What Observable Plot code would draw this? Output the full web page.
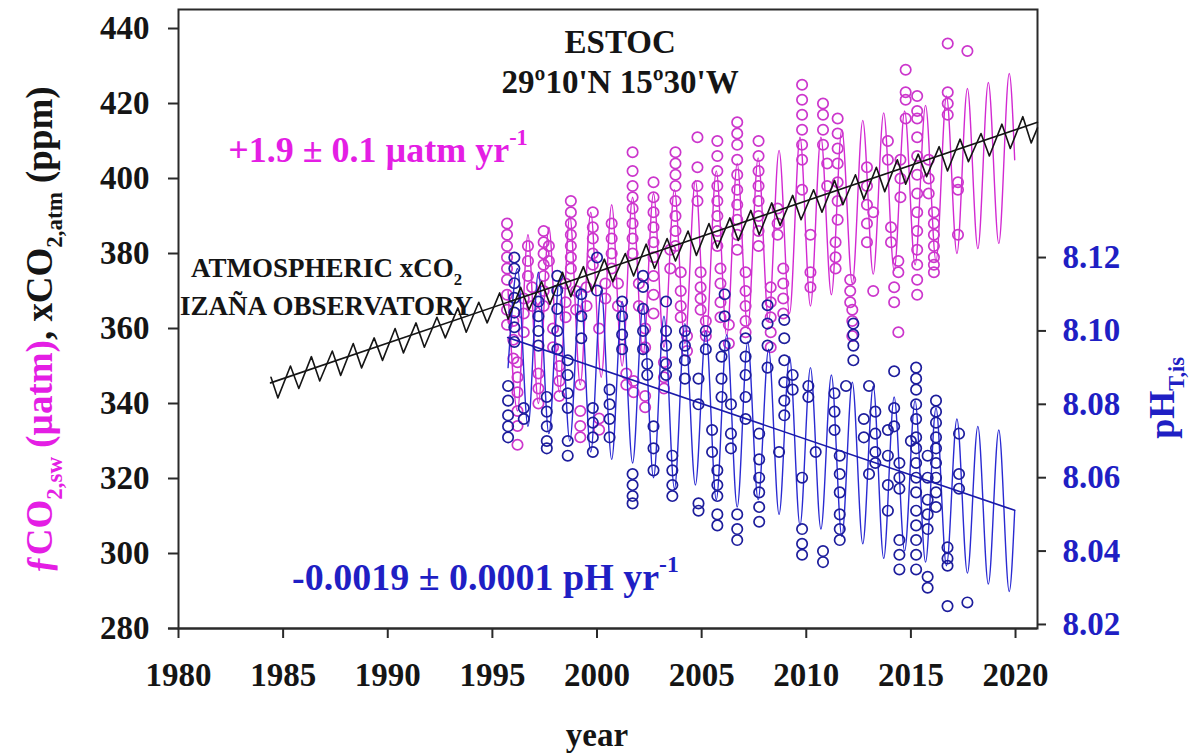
<!DOCTYPE html>
<html><head><meta charset="utf-8">
<script src="https://cdn.jsdelivr.net/npm/d3@7"></script>
<script src="https://cdn.jsdelivr.net/npm/@observablehq/plot@0.6"></script>
<style>
body{margin:0;background:#fff;}
#wrap{position:relative;width:1192px;height:753px;overflow:hidden;background:#fff;}
#wrap svg{position:absolute;left:0;top:0;}
</style></head><body><div id="wrap"></div>
<script>
// ---------- axis ticks ----------
const yearTicks = [1980,1985,1990,1995,2000,2005,2010,2015,2020];
const ppmTicks = [280,300,320,340,360,380,400,420,440];
const phTicks = [8.02,8.04,8.06,8.08,8.10,8.12];

// ---------- atmospheric xCO2, Izaña (ppm) ----------
const atmYear = [1984.42,1984.75,1985.35,1985.75,1986.35,1986.75,1987.35,1987.75,1988.35,1988.75,1989.35,1989.75,1990.35,1990.75,1991.35,1991.75,1992.35,1992.75,1993.35,1993.75,1994.35,1994.75,1995.35,1995.75,1996.35,1996.75,1997.35,1997.75,1998.35,1998.75,1999.35,1999.75,2000.35,2000.75,2001.35,2001.75,2002.35,2002.75,2003.35,2003.75,2004.35,2004.75,2005.35,2005.75,2006.35,2006.75,2007.35,2007.75,2008.35,2008.75,2009.35,2009.75,2010.35,2010.75,2011.35,2011.75,2012.35,2012.75,2013.35,2013.75,2014.35,2014.75,2015.35,2015.75,2016.35,2016.75,2017.35,2017.75,2018.35,2018.75,2019.35,2019.75,2020.35,2020.75,2021.05];
const atmPpm  = [347.0,341.5,350.0,344.0,352.5,346.0,354.0,347.5,356.0,349.5,357.5,351.5,360.0,353.5,361.5,355.0,363.0,357.5,365.5,359.0,367.0,361.5,369.5,362.5,371.0,365.0,372.5,366.5,375.0,368.5,376.5,370.0,378.5,372.5,380.0,374.0,382.5,376.0,384.0,378.0,386.0,379.5,388.0,381.5,389.5,383.5,391.5,385.0,393.5,387.5,395.5,389.0,397.0,391.0,399.5,393.0,401.0,394.5,403.0,396.5,405.0,398.5,406.5,400.5,408.5,402.0,410.5,404.5,412.0,406.0,414.5,408.0,416.5,409.5,413.5];
const atmTrendYear = [1984.4, 2021.05];
const atmTrendPpm = [345.5, 415.0];

// ---------- seawater fCO2, ESTOC (µatm): observations [year, value] ----------
const fco2Obs = [
[1995.7,388],[1995.7,385],[1995.7,382],[1995.7,379],[1995.7,376],[1995.7,373],[1995.7,369],[1995.7,365],[1995.7,361],
[1996.0,362],[1996.0,357],[1996.0,352],
[1996.2,351],[1996.2,347],[1996.2,343],[1996.2,338],[1996.2,334],[1996.2,329],
[1996.5,368],[1996.5,364],[1996.5,359],[1996.7,382],[1996.7,378],[1996.7,374],[1996.9,371],[1996.9,366],
[1997.2,348],[1997.2,344],[1997.2,340],
[1997.45,386],[1997.45,383],[1997.45,380],[1997.45,377],[1997.45,374],[1997.45,370],[1997.45,366],
[1997.7,382],[1997.7,378],[1997.9,360],[1997.9,355],
[1998.2,350],[1998.2,346],[1998.2,342],[1998.5,372],[1998.5,367],[1998.5,363],
[1998.75,394],[1998.75,391],[1998.75,388],[1998.75,385],[1998.75,382],[1998.75,379],[1998.75,376],
[1999.0,370],[1999.0,365],[1999.2,345],[1999.2,338],[1999.2,334],[1999.2,331],[1999.5,366],[1999.5,371],
[1999.8,391],[1999.8,387],[1999.8,384],[1999.8,380],[1999.8,377],
[2000.1,360],[2000.1,336],[2000.1,333],[2000.4,368],[2000.4,372],
[2000.7,388],[2000.7,384],[2000.7,380],[2000.7,376],[2001.0,372],[2001.0,366],[2001.4,348],[2001.4,345],
[2001.7,407],[2001.7,402],[2001.7,398],[2001.7,395],[2001.7,392],[2001.7,388],[2001.7,384],[2001.7,380],
[2001.75,346],[2001.75,343],[2002.0,372],[2002.0,366],
[2002.3,360],[2002.3,355],[2002.3,342],[2002.3,339],
[2002.7,399],[2002.7,395],[2002.7,391],[2002.7,387],[2002.7,383],[2002.7,379],[2002.7,374],[2002.7,369],[2002.7,364],
[2003.2,351],[2003.2,347],[2003.2,344],[2003.5,376],[2003.5,381],
[2003.75,407],[2003.75,404],[2003.75,401],[2003.75,398],[2003.75,394],[2003.75,390],[2003.75,386],[2003.75,382],
[2004.0,375],[2004.0,370],[2004.0,366],[2004.0,363],[2004.3,358],[2004.3,354],
[2004.8,411],[2004.8,403],[2004.8,398],[2004.8,394],[2004.95,375],[2004.95,371],[2004.95,368],[2004.95,365],
[2005.2,362],[2005.2,358],
[2005.75,410],[2005.75,406],[2005.75,402],[2005.75,398],[2005.75,394],[2005.75,390],[2005.75,386],[2005.75,382],
[2005.9,376],[2005.9,372],[2005.9,367],[2005.9,363],[2006.3,361],[2006.3,356],
[2006.7,415],[2006.7,412],[2006.7,409],[2006.7,405],[2006.7,401],[2006.7,397],[2006.7,393],[2006.7,389],[2006.7,385],[2006.7,381],
[2007.1,375],[2007.1,370],[2007.1,366],[2007.1,362],[2007.1,359],
[2007.72,410],[2007.72,406],[2007.72,402],[2007.72,398],[2007.72,394],[2007.72,390],[2007.72,386],[2007.72,382],
[2008.3,371],[2008.3,367],[2008.3,363],[2008.3,359],[2008.3,355],
[2008.63,392],[2008.63,388],[2008.63,385],[2008.9,376],[2008.9,372],[2008.9,368],[2008.9,364],
[2009.8,425],[2009.8,421],[2009.8,417],[2009.8,413],[2009.8,409],[2009.8,405],[2009.8,397],
[2010.2,385],[2010.2,375],[2010.2,371],
[2010.8,420],[2010.8,417],[2010.8,413],[2010.8,409],[2011.0,404],[2011.0,398],
[2011.5,416],[2011.5,412],[2011.5,408],[2011.5,404],[2011.5,399],[2011.5,394],[2011.5,389],
[2011.4,383],[2011.4,379],[2011.4,376],
[2012.1,373],[2012.1,370],[2012.1,367],[2012.2,365],[2012.2,362],[2012.2,358],
[2012.9,403],[2012.9,398],[2012.9,393],[2012.9,388],[2012.9,383],[2013.2,391],[2013.2,370],
[2013.9,410],[2013.9,405],[2014.05,387],[2014.05,383],[2014.2,371],[2014.2,367],
[2014.4,378],[2014.4,375],[2014.4,359],[2014.5,405],[2014.5,400],[2014.5,395],
[2014.75,429],[2014.75,423],[2014.75,421],[2014.75,416],
[2015.3,422],[2015.3,418],[2015.3,416],[2015.3,411],[2015.3,406],[2015.3,401],[2015.3,396],[2015.3,391],[2015.3,386],[2015.3,381],[2015.3,377],[2015.3,373],[2015.3,369],
[2015.85,405],[2015.85,400],[2015.85,396],
[2016.1,391],[2016.1,388],[2016.1,385],[2016.1,382],[2016.1,379],[2016.1,377],[2016.1,375],
[2016.76,436],[2016.76,423],[2016.76,420],[2016.76,417],
[2017.25,399],[2017.25,397],[2017.25,385],[2017.7,434]
];
// seasonal fit: successive troughs and crests
const fco2FitYear = [1995.75,1996.2,1996.7,1997.2,1997.7,1998.2,1998.7,1999.2,1999.7,2000.2,2000.7,2001.2,2001.7,2002.2,2002.7,2003.2,2003.7,2004.2,2004.7,2005.2,2005.7,2006.2,2006.7,2007.2,2007.7,2008.2,2008.7,2009.2,2009.7,2010.2,2010.7,2011.2,2011.7,2012.2,2012.7,2013.2,2013.7,2014.2,2014.7,2015.2,2015.7,2016.2,2016.7,2017.2,2017.7,2018.2,2018.7,2019.2,2019.7,2019.96];
const fco2FitVal  = [370,338,385,340,387,343,390,345,391,347,393,350,395,353,396,355,397,356,399.5,357,402,358,404,360,405.5,362,407.5,364,411,366,411,369,413,372,415.5,374.5,417.5,375.5,418,377,419.5,378,422,380,424,381.3,425.6,382.7,428,405];

// ---------- pH (total scale, in situ) ----------
const phObs = [
[1995.75,8.085],[1995.75,8.081],[1995.75,8.077],[1995.75,8.074],[1995.75,8.071],
[1996.05,8.120],[1996.05,8.117],[1996.05,8.113],[1996.05,8.109],[1996.05,8.105],[1996.05,8.101],[1996.05,8.097],
[1996.5,8.079],[1996.5,8.076],
[1997.2,8.108],[1997.2,8.104],[1997.2,8.100],[1997.2,8.096],
[1997.6,8.082],[1997.6,8.078],[1997.6,8.074],[1997.6,8.070],[1997.6,8.068],
[1998.1,8.115],[1998.1,8.111],[1998.1,8.106],[1998.1,8.100],[1998.1,8.095],
[1998.6,8.092],[1998.6,8.088],[1998.6,8.083],[1998.6,8.079],[1998.6,8.070],[1998.6,8.066],
[1999.25,8.110],[1999.25,8.104],[1999.25,8.098],
[1999.8,8.079],[1999.8,8.075],[1999.8,8.071],[1999.8,8.067],
[2000.0,8.120],[2000.0,8.111],
[2000.6,8.084],[2000.6,8.080],[2000.6,8.076],[2000.6,8.071],
[2001.2,8.108],[2001.2,8.104],[2001.2,8.099],[2001.2,8.095],
[2001.7,8.061],[2001.7,8.058],[2001.7,8.055],[2001.7,8.053],
[2002.2,8.115],[2002.2,8.112],[2002.2,8.106],[2002.2,8.100],[2002.2,8.095],
[2002.4,8.091],[2002.4,8.088],[2002.7,8.074],[2002.7,8.068],[2002.7,8.062],
[2003.3,8.108],[2003.3,8.100],[2003.3,8.096],[2003.3,8.091],[2003.3,8.088],
[2003.6,8.066],[2003.6,8.062],[2003.6,8.058],[2003.6,8.055],
[2004.2,8.100],[2004.2,8.096],[2004.2,8.092],[2004.2,8.087],
[2004.85,8.087],[2004.85,8.080],[2004.85,8.053],[2004.85,8.051],
[2005.2,8.100],[2005.2,8.095],[2005.5,8.073],[2005.5,8.067],
[2005.75,8.062],[2005.75,8.058],[2005.75,8.055],[2005.75,8.050],[2005.75,8.047],
[2005.95,8.093],[2005.95,8.087],[2005.95,8.082],
[2006.1,8.110],[2006.1,8.104],[2006.1,8.096],
[2006.4,8.080],[2006.4,8.072],[2006.4,8.068],
[2006.7,8.050],[2006.7,8.046],[2006.7,8.043],
[2007.1,8.098],[2007.1,8.093],[2007.1,8.088],[2007.1,8.082],[2007.1,8.076],
[2007.75,8.072],[2007.75,8.065],[2007.75,8.060],[2007.75,8.056],[2007.75,8.052],[2007.75,8.048],
[2008.15,8.107],[2008.15,8.102],[2008.15,8.096],[2008.15,8.090],
[2008.7,8.067],
[2008.95,8.103],[2008.95,8.098],[2008.95,8.092],[2008.95,8.086],[2008.95,8.081],[2008.95,8.077],
[2009.35,8.088],[2009.35,8.084],
[2009.8,8.060],[2009.8,8.046],[2009.8,8.042],[2009.8,8.039],
[2010.1,8.085],[2010.1,8.082],[2010.45,8.067],[2010.8,8.040],[2010.8,8.037],
[2011.35,8.083],[2011.35,8.078],[2011.35,8.073],
[2011.6,8.066],[2011.6,8.061],[2011.6,8.056],[2011.6,8.050],[2011.6,8.046],[2011.6,8.043],
[2011.9,8.085],
[2012.25,8.102],[2012.25,8.099],[2012.25,8.096],[2012.25,8.092],
[2012.75,8.076],[2012.75,8.071],[2013.0,8.061],[2013.0,8.085],
[2013.3,8.078],[2013.3,8.072],[2013.3,8.067],[2013.3,8.064],
[2013.9,8.073],[2013.9,8.066],[2013.9,8.058],[2013.9,8.051],
[2014.2,8.089],[2014.2,8.079],[2014.2,8.074],
[2014.45,8.064],[2014.45,8.060],[2014.45,8.057],[2014.45,8.043],[2014.45,8.039],[2014.45,8.035],
[2015.0,8.070],
[2015.25,8.090],[2015.25,8.087],[2015.25,8.084],[2015.25,8.080],[2015.25,8.076],[2015.25,8.071],[2015.25,8.068],[2015.25,8.064],[2015.25,8.060],[2015.25,8.056],[2015.25,8.051],[2015.25,8.047],[2015.25,8.043],[2015.25,8.039],[2015.25,8.035],
[2015.8,8.066],[2015.8,8.060],[2015.8,8.054],[2015.8,8.050],[2015.8,8.046],[2015.8,8.033],[2015.8,8.030],
[2016.2,8.081],[2016.2,8.078],[2016.2,8.075],[2016.2,8.071],[2016.2,8.068],[2016.2,8.064],[2016.2,8.060],[2016.2,8.056],[2016.2,8.052],
[2016.75,8.041],[2016.75,8.038],[2016.75,8.036],[2016.75,8.025],
[2017.3,8.072],[2017.3,8.061],[2017.3,8.057],[2017.7,8.026]
];
const phFitYear = [1995.75,1996.2,1996.7,1997.2,1997.7,1998.2,1998.7,1999.2,1999.7,2000.2,2000.7,2001.2,2001.7,2002.2,2002.7,2003.2,2003.7,2004.2,2004.7,2005.2,2005.7,2006.2,2006.7,2007.2,2007.7,2008.2,2008.7,2009.2,2009.7,2010.2,2010.7,2011.2,2011.7,2012.2,2012.7,2013.2,2013.7,2014.2,2014.7,2015.2,2015.7,2016.2,2016.7,2017.2,2017.7,2018.2,2018.7,2019.2,2019.7,2019.96];
const phFitVal  = [8.090,8.117,8.074,8.116,8.072,8.114,8.070,8.112,8.067,8.111,8.065,8.108,8.064,8.107,8.060,8.104,8.057,8.102,8.058,8.100,8.054,8.099,8.052,8.097,8.054,8.095,8.050,8.093,8.047,8.090,8.046,8.088,8.044,8.086,8.042,8.085,8.038,8.082,8.040,8.081,8.037,8.079,8.036,8.076,8.034,8.074,8.031,8.073,8.029,8.051];
const phTrendYear = [1995.73, 2019.96];
const phTrendVal = [8.0982, 8.0511];

// ---------- styling ----------
const FONT = "'Liberation Serif','Times New Roman',serif";
const MAG_TXT = "#e41ee4", MAG_DOT = "#cc36cc", MAG_LINE = "#d22ad2";
const BLUE_TXT = "#1f1fc4", BLUE_DOT = "#1d1d9c", BLUE_LINE = "#2a2ad2";
const INK = "#151515";
const W = 1192, H = 753;
const common = {
  width: W, height: H,
  marginLeft: 178, marginRight: 155, marginTop: 9, marginBottom: 125,
  style: {background: "transparent", fontFamily: FONT, fontWeight: "bold", overflow: "visible"}
};
const xDomain = [1980, 2021.05];
const ppmDomain = [280, 445.07];
const phDomain = [8.0189, 8.1876];

// Layer A: frame, left & bottom axes, fCO2
const plotA = Plot.plot({
  ...common,
  x: {domain: xDomain},
  y: {domain: ppmDomain},
  marks: [
    Plot.ruleY([280], {x1: 1979.52, x2: 2021.05, stroke: "#2a2a2a", strokeWidth: 2}),
    Plot.frame({stroke: "#2a2a2a", strokeWidth: 2}),
    Plot.axisX({ticks: yearTicks, tickFormat: d => String(d), tickSize: 10, tickPadding: 24,
      fontSize: 33, fontFamily: FONT, fontWeight: "bold", stroke: "#2a2a2a", strokeWidth: 2, fill: INK, label: null}),
    Plot.axisY({ticks: ppmTicks, tickFormat: d => String(d), tickSize: 10, tickPadding: 19,
      fontSize: 33, fontFamily: FONT, fontWeight: "bold", stroke: "#2a2a2a", strokeWidth: 2, fill: INK, label: null}),
    Plot.line(fco2FitYear, {x: fco2FitYear, y: fco2FitVal, curve: "monotone-x", stroke: MAG_LINE, strokeWidth: 1.4}),
    Plot.dot(fco2Obs, {x: d => d[0], y: d => d[1], r: 5.2, stroke: MAG_DOT, strokeWidth: 1.7, fill: "none"})
  ]
});

// Layer B: pH with right axis
const plotB = Plot.plot({
  ...common,
  x: {domain: xDomain, axis: null},
  y: {domain: phDomain},
  marks: [
    Plot.axisY({anchor: "right", ticks: phTicks, tickFormat: d => d.toFixed(2), tickSize: 8, tickPadding: 17,
      fontSize: 33, fontFamily: FONT, fontWeight: "bold", stroke: "#2a2a2a", strokeWidth: 2, fill: BLUE_TXT, label: null}),
    Plot.line(phFitYear, {x: phFitYear, y: phFitVal, curve: "monotone-x", stroke: BLUE_LINE, strokeWidth: 1.4}),
    Plot.dot(phObs, {x: d => d[0], y: d => d[1], r: 5.2, stroke: BLUE_DOT, strokeWidth: 1.7, fill: "none"}),
    Plot.line(phTrendYear, {x: phTrendYear, y: phTrendVal, stroke: "#1a1aa8", strokeWidth: 1.6})
  ]
});

// Layer C: atmospheric xCO2 on top
const plotC = Plot.plot({
  ...common,
  x: {domain: xDomain, axis: null},
  y: {domain: ppmDomain, axis: null},
  marks: [
    Plot.line(atmYear, {x: atmYear, y: atmPpm, stroke: INK, strokeWidth: 1.6}),
    Plot.line(atmTrendYear, {x: atmTrendYear, y: atmTrendPpm, stroke: INK, strokeWidth: 1.6})
  ]
});

const wrap = document.getElementById("wrap");
wrap.append(plotA, plotB, plotC);

// ---------- rich text annotations ----------
const sx = plotC.scale("x"), sy = plotC.scale("y");
function rich(svg, {x, y, size, color, anchor = "start", rotate = 0, parts}) {
  const t = d3.select(svg).append("text")
    .attr("transform", `translate(${x},${y}) rotate(${rotate})`)
    .attr("text-anchor", anchor)
    .attr("font-family", FONT).attr("font-weight", "bold")
    .attr("font-size", size).attr("fill", color)
    .style("white-space", "pre");
  let shift = 0;
  for (const p of parts) {
    const fs = (p.sub || p.sup) ? size * 0.62 : size;
    const target = p.sub ? size * 0.28 : p.sup ? -size * 0.48 : 0;
    t.append("tspan").attr("dy", target - shift).attr("font-size", fs)
      .attr("fill", p.color || color).text(p.t);
    shift = target;
  }
  return t;
}
const svgC = plotC;
rich(svgC, {x: sx.apply(2001.13), y: sy.apply(433.3), size: 33, color: INK, anchor: "middle", parts: [{t: "ESTOC"}]});
rich(svgC, {x: sx.apply(2001.13), y: sy.apply(422.7), size: 33, color: INK, anchor: "middle", parts: [{t: "29º10'N 15º30'W"}]});
rich(svgC, {x: sx.apply(1982.4), y: sy.apply(404.3), size: 36, color: MAG_TXT, parts: [{t: "+1.9 ± 0.1 µatm yr"}, {t: "-1", sup: true}]});
rich(svgC, {x: sx.apply(1987.1), y: sy.apply(373.6), size: 27, color: INK, anchor: "middle", parts: [{t: "ATMOSPHERIC xCO"}, {t: "2", sub: true}]});
rich(svgC, {x: sx.apply(1987.1), y: sy.apply(363.5), size: 27, color: INK, anchor: "middle", parts: [{t: "IZAÑA OBSERVATORY"}]});
rich(svgC, {x: sx.apply(1985.45), y: sy.apply(290.1), size: 38, color: BLUE_TXT, parts: [{t: "-0.0019 ± 0.0001 pH yr"}, {t: "-1", sup: true}]});

// axis titles
rich(svgC, {x: 52, y: 330, size: 37, color: INK, anchor: "middle", rotate: -90, parts: [
  {t: "ƒCO", color: MAG_TXT}, {t: "2,sw", sub: true, color: MAG_TXT}, {t: " (µatm)", color: MAG_TXT},
  {t: ", x"}, {t: "CO"}, {t: "2,atm", sub: true}, {t: " (ppm)"}
]});
rich(svgC, {x: 1174, y: 398, size: 36, color: BLUE_TXT, anchor: "middle", rotate: -90, parts: [
  {t: "pH"}, {t: "T,is", sub: true}
]});
rich(svgC, {x: 597, y: 746, size: 33, color: INK, anchor: "middle", parts: [{t: "year"}]});
</script></body></html>
